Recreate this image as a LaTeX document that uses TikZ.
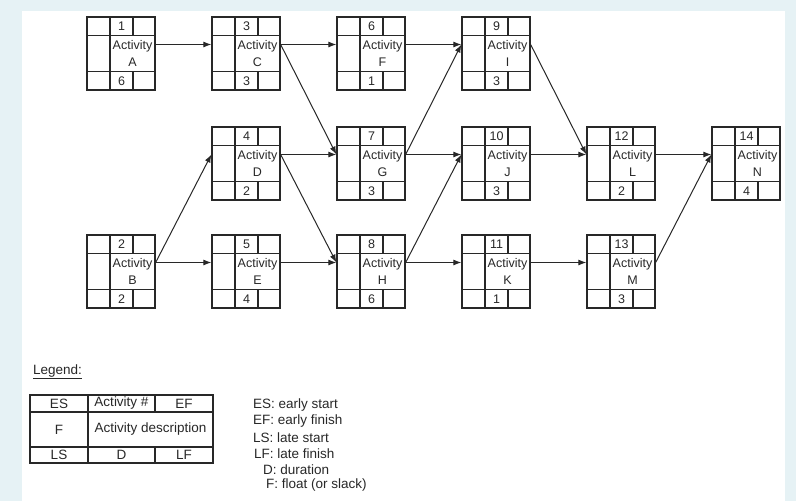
\documentclass[tikz,border=0pt]{standalone}
\usepackage{fontspec}
\setmainfont{Liberation Sans}
\usetikzlibrary{arrows.meta}
\definecolor{bgblue}{RGB}{230,242,245}
\definecolor{ink}{RGB}{40,40,40}
\tikzset{
  boxframe/.style={draw=ink,line width=1.3pt,minimum width=68pt,minimum height=73pt,inner sep=0pt},
  cell/.style={draw=ink,line width=1.3pt},
  txt/.style={inner sep=0pt,font=\fontsize{12.5}{13}\selectfont,text=ink},
  ltxt/.style={inner sep=0pt,font=\fontsize{13.5}{14}\selectfont,text=ink},
  arr/.style={draw=ink,line width=1pt,-{Latex[length=8pt,width=6pt]}}
}
\newcommand{\ActBox}[6]{%
  \node[boxframe] (#1) at (#2+34,#3+36.5) {};
  \draw[cell] (#2,#3+18.5) -- (#2+68,#3+18.5);
  \draw[cell] (#2,#3+54.5) -- (#2+68,#3+54.5);
  \draw[cell] (#2+23,#3) -- (#2+23,#3+73);
  \draw[cell] (#2+46,#3) -- (#2+46,#3+18.5);
  \draw[cell] (#2+46,#3+54.5) -- (#2+46,#3+73);
  \node[txt] (#1num) at (#2+34.5,#3+9.5) {#4};
  \node[txt] (#1act) at (#2+45.5,#3+29) {Activity};
  \node[txt] (#1let) at (#2+45.5,#3+45) {#5};
  \node[txt] (#1dur) at (#2+34.5,#3+64) {#6};
  \coordinate (#1o) at ([yshift=9pt]#1.east);
  \coordinate (#1i) at ([yshift=9pt]#1.west);
}
\begin{document}
\begin{tikzpicture}[x=1pt,y=-1pt]
\fill[bgblue] (0,0) rectangle (796,501);
\fill[white] (22,11) rectangle (785,501);
\useasboundingbox (0,0) rectangle (796,501);

\ActBox{A}{87}{17}{1}{A}{6}
\ActBox{C}{212}{17}{3}{C}{3}
\ActBox{F}{337}{17}{6}{F}{1}
\ActBox{I}{462}{17}{9}{I}{3}
\ActBox{D}{212}{127}{4}{D}{2}
\ActBox{G}{337}{127}{7}{G}{3}
\ActBox{J}{462}{127}{10}{J}{3}
\ActBox{L}{587}{127}{12}{L}{2}
\ActBox{N}{712}{127}{14}{N}{4}
\ActBox{B}{87}{235}{2}{B}{2}
\ActBox{E}{212}{235}{5}{E}{4}
\ActBox{H}{337}{235}{8}{H}{6}
\ActBox{K}{462}{235}{11}{K}{1}
\ActBox{M}{587}{235}{13}{M}{3}

\draw[arr] (Ao) -- (Ci);
\draw[arr] (Co) -- (Fi);
\draw[arr] (Co) -- (Gi);
\draw[arr] (Fo) -- (Ii);
\draw[arr] (Go) -- (Ii);
\draw[arr] (Go) -- (Ji);
\draw[arr] (Io) -- (Li);
\draw[arr] (Jo) -- (Li);
\draw[arr] (Lo) -- (Ni);
\draw[arr] (Mo) -- (Ni);
\draw[arr] (Bo) -- (Di);
\draw[arr] (Bo) -- (Ei);
\draw[arr] (Do) -- (Gi);
\draw[arr] (Do) -- (Hi);
\draw[arr] (Eo) -- (Hi);
\draw[arr] (Ho) -- (Ji);
\draw[arr] (Ho) -- (Ki);
\draw[arr] (Ko) -- (Mi);

% Legend
\node[ltxt,anchor=west] (leg) at (33,372) {\underline{Legend:}};
\node[draw=ink,line width=1.3pt,minimum width=183pt,minimum height=68pt,inner sep=0pt] (legtab) at (121.5,429) {};
\draw[cell] (30,412) -- (213,412);
\draw[cell] (30,447) -- (213,447);
\draw[cell] (88,395) -- (88,463);
\draw[cell] (155,395) -- (155,412);
\draw[cell] (155,447) -- (155,463);
\node[ltxt] (les) at (59,403.5) {ES};
\node[ltxt] (lact) at (121.5,403.5) {Activity \#};
\node[ltxt] (lef) at (184,403.5) {EF};
\node[ltxt] (lf) at (59,429.5) {F};
\node[ltxt] (ldesc) at (150.5,429.5) {Activity description};
\node[ltxt] (lls) at (59,455) {LS};
\node[ltxt] (ld) at (121.5,455) {D};
\node[ltxt] (llf) at (184,455) {LF};

\node[ltxt,anchor=west] (k1) at (253,405) {ES:\ early start};
\node[ltxt,anchor=west] (k2) at (253,421.5) {EF:\ early finish};
\node[ltxt,anchor=west] (k3) at (253,437.5) {LS:\ late start};
\node[ltxt,anchor=west] (k4) at (254,453.5) {LF:\ late finish};
\node[ltxt,anchor=west] (k5) at (263,469.5) {D:\ duration};
\node[ltxt,anchor=west] (k6) at (266,485.5) {F:\ float (or slack)};
\end{tikzpicture}
\end{document}
